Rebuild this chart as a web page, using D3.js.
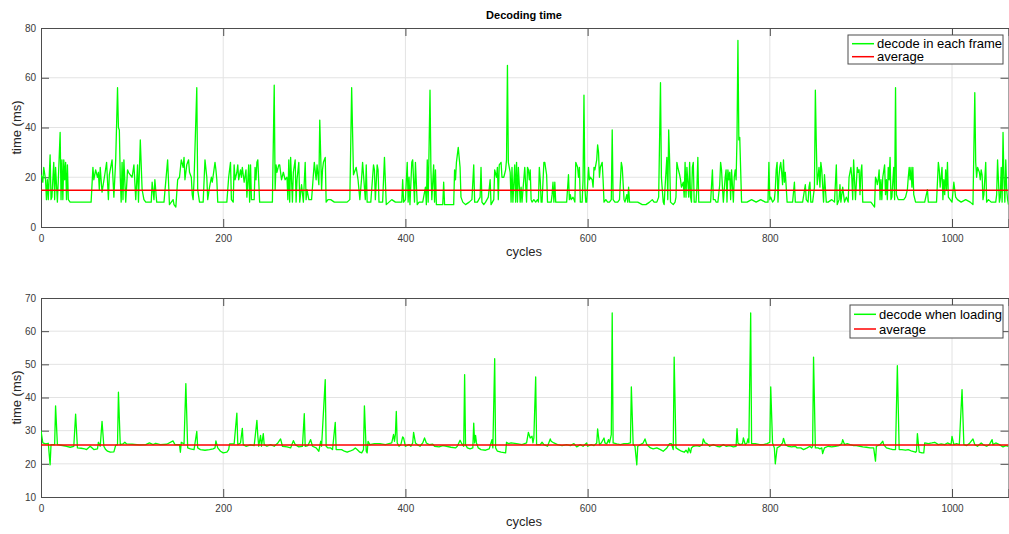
<!DOCTYPE html>
<html>
<head>
<meta charset="utf-8">
<script src="https://cdn.jsdelivr.net/npm/d3@7"></script>
<style>
  html, body { margin: 0; padding: 0; background: #fff; }
  svg { display: block; font-family: "Liberation Sans", Arial, sans-serif; }
</style>
</head>
<body>
<div id="chart"></div>
<script>
// decode time per frame, [cycle, ms] vertices
const frameDecode = [
  [0,21],[1,20],[2,18],[3,24],[5,19],[6,11],[7,19],[8,11],[10,29],[11,11],[12,12],[14,26],[15,11],[16,24],[18,10],[19,19],[21,38],[22,11],[23,27],[24,11],[25,27],[26,19],[27,26],[28,11],[29,25],[30,11],[32,10],[34,10],[40,10],[45,10],[50,10],[55,10],
  [57,24],[58,19],[60,23],[62,20],[63,22],[64,15],[65,24],[67,14],[70,21],[72,26],[74,11],[75,21],[77,25],[78,27],[80,12],[82,27],[84,56],[85,40],[86,39],[87,20],[88,10],[89,26],[90,11],[91,27],[93,10],[95,23],[96,22],[98,21],[100,20],[102,25],[104,11],[106,25],[107,10],[109,35],[111,15],[113,11],[115,10],[118,10],[121,10],[122,18],[124,11],[125,19],[127,10],[130,10],[135,10],[139,27],[141,9],[143,10],[145,11],[146,9],[148,8],[150,19],[152,20],[154,27],[156,24],[157,28],[158,19],[160,25],[162,27],[163,22],[165,20],[166,13],[167,11],[168,19],[171,56],[172,15],[174,10],[176,10],
  [178,10],[180,27],[182,20],[183,11],[185,16],[187,20],[188,18],[191,26],[192,23],[193,19],[194,10],[196,10],[200,10],[202,10],[204,10],[206,20],[208,26],[209,11],[211,10],[212,25],[213,19],[215,22],[216,25],[217,19],[219,23],[220,20],[221,24],[223,18],[225,23],[226,12],[228,25],[229,10],[230,25],[231,11],[234,11],[235,24],[236,19],[237,26],[238,27],[240,10],[244,10],[248,10],[252,10],[254,10],[256,57],[257,15],[258,25],[259,22],[261,25],[262,25],[264,19],[266,22],[268,19],[270,20],[271,11],[272,27],[273,10],[274,28],[276,10],[277,22],[279,27],[280,10],[281,19],[283,26],[284,10],[286,17],[288,10],[290,26],[291,11],[292,15],[294,11],[297,11],[299,21],[300,26],[302,19],[303,25],[305,17],[306,43],[308,15],[309,23],[310,26],[312,28],[313,10],[315,11],[318,11],[322,10],[328,10],[332,10],[336,10],[339,11],[341,56],[343,21],[345,23],[346,24],[348,19],[350,11],[352,20],[353,26],[356,11],
  [357,25],[358,10],[360,10],[362,10],[365,25],[366,23],[367,11],[369,25],[370,23],[371,10],[373,10],[375,10],[377,28],[379,9],[382,10],[385,11],[389,10],[393,10],[396,10],[397,19],[398,10],[400,11],[402,26],[403,10],[404,20],[405,9],[407,26],[408,27],[410,10],[411,26],[413,9],[415,10],[419,10],[422,16],[423,9],[424,27],[425,10],[427,55],[428,23],[429,11],[431,25],[432,10],[433,23],[434,9],[437,9],[441,9],[442,18],[443,9],[446,9],[450,9],[453,9],[454,23],[455,19],[456,26],[458,32],[460,24],[461,12],[463,10],[466,9],[470,10],[473,11],[475,25],[476,10],[479,10],[482,12],[483,24],[484,10],[486,9],[488,10],[491,12],[493,19],[494,9],[497,11],[498,23],[500,20],[501,24],[502,11],[503,25],[505,26],[506,20],[508,20],[510,23],[511,27],[512,65],[513,26],[515,22],[516,10],[517,24],[518,10],[520,25],[521,10],[522,26],[523,10],[524,24],[526,10],[527,16],[528,10],[531,24],[533,10],
  [534,24],[535,23],[536,19],[537,23],[538,11],[539,10],[541,11],[543,10],[545,11],[546,10],[547,24],[548,19],[549,10],[550,10],[552,26],[553,26],[555,21],[556,10],[557,10],[560,10],[561,13],[562,18],[563,10],[564,18],[565,10],[570,10],[575,10],[577,10],[579,21],[580,11],[581,13],[582,11],[584,12],[586,10],[587,26],[589,24],[590,20],[591,24],[592,10],[594,10],[595,19],[596,53],[597,16],[598,10],[599,10],[601,24],[602,19],[603,20],[605,19],[606,16],[607,24],[608,23],[610,27],[611,33],[612,30],[613,20],[614,24],[616,26],[617,19],[618,10],[620,11],[622,10],[624,10],[626,11],[627,39],[628,11],[630,10],[633,10],[635,11],[637,26],[638,24],[640,11],[641,10],[643,13],[644,10],[645,16],[646,10],[649,10],[655,10],[660,9],[664,9],[668,10],[671,11],[673,10],[676,10],[678,12],[680,58],[681,20],[683,10],[684,9],[685,16],[687,28],[688,11],[689,39],[690,27],[691,10],[694,9],[696,10],[697,12],[698,26],[699,24],[701,21],[702,19],[703,16],[705,18],[706,12],[707,26],[708,12],[709,24],[711,12],
  [712,26],[713,12],[714,10],[715,24],[716,26],[717,10],[719,10],[720,16],[721,28],[722,10],[724,10],[728,10],[732,10],[735,10],[737,23],[738,11],[740,11],[741,10],[743,10],[745,17],[746,26],[747,23],[748,16],[749,10],[751,20],[752,23],[753,10],[754,23],[755,19],[756,22],[757,11],[758,23],[760,10],[761,20],[762,23],[763,19],[764,36],[765,75],[766,35],[767,36],[768,23],[769,10],[771,10],[775,10],[780,11],[785,10],[790,11],[795,10],[798,10],[799,26],[800,11],[801,12],[803,10],[805,11],[806,15],[807,23],[808,26],[809,10],[810,20],[811,24],[812,26],[813,22],[814,17],[815,27],[816,18],[817,22],[819,10],[822,10],[825,10],[827,18],[828,10],[832,10],[836,10],[839,17],[840,11],[842,10],[843,16],[844,18],[845,10],[847,10],[849,16],[850,55],[851,34],[852,17],[854,24],[855,16],[856,26],[857,23],[859,10],[860,21],[862,10],[864,10],[868,11],[871,10],[873,25],[874,9],[876,11],[877,17],[878,10],[880,16],[882,10],[884,12],[886,10],[887,20],[889,24],
  [890,20],[891,11],[892,27],[893,19],[894,11],[896,24],[897,22],[898,23],[899,13],[900,22],[901,25],[902,10],[905,10],[908,10],[911,10],[913,9],[915,8],[916,20],[917,19],[918,17],[919,19],[920,23],[921,11],[922,19],[923,11],[924,20],[926,25],[927,13],[928,19],[929,11],[930,24],[931,19],[932,28],[933,11],[934,12],[936,24],[937,11],[938,56],[939,13],[941,11],[944,11],[947,11],[949,12],[951,15],[952,20],[953,24],[954,19],[955,24],[956,16],[957,24],[958,13],[960,10],[963,10],[966,10],[970,10],[973,15],[974,10],[977,10],[980,10],[983,10],[985,26],[986,23],[987,16],[989,24],[990,11],[991,19],[992,13],[993,23],[994,15],[995,26],[996,12],[998,11],[1000,10],[1002,18],[1004,12],[1006,11],[1010,10],[1015,11],[1020,10],[1023,9],[1025,54],[1026,26],[1027,20],[1028,24],[1030,22],[1031,19],[1032,23],[1033,21],[1034,11],[1035,13],[1037,26],[1038,10],[1040,11],[1043,10],[1046,10],[1048,10],[1049,13],[1050,27],[1052,10],[1053,12],[1054,24],[1055,10],[1056,38],[1057,19],[1058,10],[1059,27],[1060,15],[1061,11],[1062,9]
];
const frameAverage = 14.8;

// decode time while loading, [cycle, ms]
const loadingDecode = [
  [0,30],[2,26.3],[5,26],[8,26.2],[10,19.7],[11,25.8],[15,25.8],[16,37.5],[18,25.8],[22,25.6],[28,25.3],[32,25],[36,25.3],[38,35],[40,24.8],[44,24.7],[48,24.5],[50,24.3],[54,25.3],[58,24.3],[62,24.5],[63,26.5],[65,25.3],[67,32.8],[69,25.3],[71,24.3],[73,23.8],[76,23.5],[80,23.6],[82,25.6],[84,25.8],[85,41.6],[87,25.8],[90,26],[92,26.5],[94,26],[100,25.9],[108,25.7],[115,25.8],[119,26.3],[123,25.8],[126,26.2],[131,25.8],[138,25.9],[145,26.9],[147,25.8],[152,25.8],[153,23.5],[154,26.5],[157,26],[159,44.2],[161,24.8],[164,24.5],[168,24.3],[171,29.8],[172,24.8],[175,24.3],[180,24.1],[185,24.3],[189,24.5],[191,24.8],[192,26.9],[194,24.8],[197,23.8],[200,23.3],[204,23.5],[206,24.3],[207,26],[212,26],[215,35.3],[216,25.8],[219,26.3],[221,30.7],[222,25.8],[225,25.3],[230,25.7],[234,25.5],[237,33.1],[238,28.3],[239,25.3],[241,28.6],[242,25.3],[244,29.1],[245,25.8],[248,25.3],[252,25.8],[256,25.3],[260,26.3],[263,27.5],[265,25.3],[270,25.1],[274,24.8],[277,27],[279,25.8],[283,25.1],[287,25.3],[289,35.1],[290,25.3],[293,25.5],[296,27.3],[298,25.3],[302,24.8],[305,23.8],[307,26.8],[308,25.3],[312,45.4],[313,25.3],[315,24.8],[318,24.8],[320,24.3],[323,32.5],[324,24.3],[328,24.3],
  [330,24.3],[333,23.8],[336,23.5],[339,23.8],[343,24.3],[345,24.8],[347,24.3],[350,23.5],[352,23.3],[354,24.3],[355,37.5],[357,23.8],[358,23.3],[359,26.8],[361,25.8],[366,26.1],[372,26.1],[378,25.8],[385,26.3],[387,28.9],[388,26.8],[389,28.8],[390,35.8],[391,26.3],[393,25.3],[395,25.8],[397,28.1],[398,27.8],[400,25.3],[404,25.8],[406,25.3],[408,26.3],[409,29.5],[411,26.3],[413,25.8],[416,25.3],[419,26.3],[421,27.8],[423,26.3],[426,25.8],[430,25.9],[432,25.3],[437,25.1],[441,25.5],[445,25.3],[450,25],[455,24.8],[457,25.3],[460,27.1],[462,26],[464,25.3],[465,46.9],[466,25.8],[468,24.8],[471,24.5],[474,24.8],[475,32.3],[476,26.3],[477,28.6],[478,26.3],[480,24.8],[483,24.3],[488,24.1],[492,24.5],[495,27.3],[496,24.8],[498,51.7],[499,24.8],[501,23.8],[505,23.5],[510,23.3],[511,26.5],[513,26.1],[516,26.3],[522,26.1],[528,25.8],[533,26.3],[535,29.5],[537,27.8],[539,28.3],[540,26.3],[541,27.8],[543,46.2],[544,25.8],[548,25.8],[550,26.5],[552,25.8],[556,25.3],[559,27.5],[560,26.8],[563,26.3],[567,25.8],[572,25.5],[577,25.8],[581,25.5],[585,26.1],[588,25.1],[592,25.8],[595,25.3],[599,26.3],[600,25.3],[604,25.8],[607,25.5],[610,26.3],[611,30.5],[613,25.8],[615,26.3],[618,27.8],[619,26.3],[621,26],[623,27.3],[624,26.3],[626,28.8],[627,65.5],[628,26.3],[632,26],[636,25.8],[640,26.1],[644,26.1],[647,26.3],[648,43.2],[650,25.8],[652,25.3],[654,19.7],[655,25.3],[658,25.8],[661,26.3],[663,27.5],[665,25.8],[669,24.8],[672,24.5],[676,24.8],[680,24.3],[683,23.8],[687,24.8],[690,26.1],
  [692,26.1],[694,24.3],[695,52.2],[697,24.8],[700,24.3],[703,23.8],[706,23.5],[708,24.1],[710,23.3],[711,24.8],[713,23.3],[714,24.8],[716,25.3],[720,25.5],[723,25.3],[726,25.8],[727,27.5],[729,26.3],[731,26.1],[734,25.3],[738,25.8],[742,25.3],[745,25.1],[749,25.8],[752,25.3],[756,25.5],[760,25.1],[763,25.3],[764,30.6],[765,26.3],[767,25.8],[770,26],[771,27.8],[773,25.8],[775,26.3],[776,27.5],[777,26.3],[779,65.5],[780,26.1],[784,26.1],[789,25.8],[793,25.8],[797,26.1],[800,26.5],[801,43.2],[803,26.3],[805,24.8],[806,20],[808,24.8],[811,25.3],[814,26.3],[815,27.7],[817,25.8],[820,25.3],[824,25.1],[828,25.3],[830,24.8],[834,24.8],[837,24.3],[841,24.8],[844,25.3],[846,24.8],[847,25.3],[848,52.2],[850,24.8],[853,24.8],[855,24.5],[857,24.8],[858,23.1],[860,24.8],[864,25.3],[868,25.1],[872,25.3],[876,25.5],[879,26.1],[880,27.3],[882,25.8],[885,26.1],[888,25.8],[892,25.5],[895,25.5],[899,25.3],[902,25.1],[906,25],[910,24.8],[914,24.8],[916,20.8],[917,25.3],[921,25.8],[924,26.8],[925,25.8],[928,24.8],[932,24.5],[935,24.3],[938,24.3],[940,49.6],[942,24.3],[945,24.3],[949,24.1],[952,24.3],[956,23.8],[960,23.5],[961,23.8],[962,29.1],[964,23.5],[967,23.3],[969,23.3],[970,26.3],[974,26.1],[978,26.3],[981,26.5],[985,25.8],[988,26],[992,25.8],[995,26.3],[999,25.8],[1000,28.3],[1002,25.8],[1005,26.1],[1008,25.8],[1011,42.4],[1013,25.8],[1016,25.5],[1019,26.1],[1023,27.5],[1025,25.8],[1028,25.3],[1032,26.3],[1034,25.8],[1038,25.3],[1041,25.8],[1044,27.3],[1045,25.8],[1048,26.3],[1052,25.8],[1056,25.1],[1059,25.5],[1062,25.3]
];
const loadingAverage = 25.7;

const xTicks = [0, 200, 400, 600, 800, 1000];
const frameYTicks = [0, 20, 40, 60, 80];
const loadingYTicks = [10, 20, 30, 40, 50, 60, 70];

const W = 1009, H = 534;
const svg = d3.select('#chart').append('svg').attr('width', W).attr('height', H);

const x = d3.scaleLinear().domain([0, 1062]).range([41, 1008.5]);

svg.append('text')
  .attr('x', 524).attr('y', 19)
  .attr('text-anchor', 'middle')
  .attr('font-size', 11).attr('font-weight', 'bold')
  .attr('fill', '#000')
  .text('Decoding time');

function drawPanel(id, top, bottom, yDomain, yTicks, series, avg, legend) {
  const y = d3.scaleLinear().domain(yDomain).range([bottom, top]);
  const g = svg.append('g');
  const x0 = x.range()[0], x1 = x.range()[1];

  g.append('clipPath').attr('id', id)
    .append('rect').attr('x', x0).attr('y', top).attr('width', x1 - x0).attr('height', bottom - top);

  // grid
  g.append('g').selectAll('line').data(xTicks.slice(1)).join('line')
    .attr('x1', d => x(d)).attr('x2', d => x(d)).attr('y1', top).attr('y2', bottom)
    .attr('stroke', '#e3e3e3').attr('stroke-width', 1);
  g.append('g').selectAll('line').data(yTicks.slice(1, -1)).join('line')
    .attr('x1', x0).attr('x2', x1).attr('y1', d => y(d)).attr('y2', d => y(d))
    .attr('stroke', '#e3e3e3').attr('stroke-width', 1);

  // axes
  const axisColor = '#4d4d4d';
  const bottomAxis = g.append('g').attr('transform', `translate(0,${bottom})`)
    .call(d3.axisBottom(x).tickValues(xTicks).tickSize(-8).tickPadding(8).tickFormat(d3.format('d')));
  const topAxis = g.append('g').attr('transform', `translate(0,${top})`)
    .call(d3.axisTop(x).tickValues(xTicks).tickSize(-8).tickFormat(''));
  const leftAxis = g.append('g').attr('transform', `translate(${x0},0)`)
    .call(d3.axisLeft(y).tickValues(yTicks).tickSize(-8).tickPadding(5));
  const rightAxis = g.append('g').attr('transform', `translate(${x1},0)`)
    .call(d3.axisRight(y).tickValues(yTicks).tickSize(-8).tickFormat(''));
  [bottomAxis, topAxis, leftAxis, rightAxis].forEach(a => {
    a.select('.domain').attr('stroke', axisColor).attr('stroke-width', 1);
    a.selectAll('.tick line').attr('stroke', axisColor);
    a.selectAll('text').attr('fill', '#3a3a3a').attr('font-size', 10)
      .attr('font-family', '"Liberation Sans", Arial, sans-serif');
  });

  // series
  const line = d3.line().x(d => x(d[0])).y(d => y(d[1]));
  const plot = g.append('g').attr('clip-path', `url(#${id})`);
  plot.append('path').datum(series)
    .attr('fill', 'none').attr('stroke', '#00ff00').attr('stroke-width', 1.3)
    .attr('stroke-linejoin', 'round')
    .attr('d', line);
  plot.append('path').datum([[0, avg], [1062, avg]])
    .attr('fill', 'none').attr('stroke', '#ff0000').attr('stroke-width', 1.5)
    .attr('d', line);

  // axis labels
  g.append('text')
    .attr('x', 524).attr('y', bottom + 29)
    .attr('text-anchor', 'middle').attr('font-size', 13).attr('fill', '#262626')
    .text('cycles');
  g.append('text')
    .attr('transform', `translate(21,${(top + bottom) / 2}) rotate(-90)`)
    .attr('text-anchor', 'middle').attr('font-size', 13).attr('fill', '#262626')
    .text('time (ms)');

  // legend
  const lg = g.append('g');
  lg.append('rect')
    .attr('x', legend.x).attr('y', legend.y).attr('width', legend.w).attr('height', legend.h)
    .attr('fill', '#fff').attr('stroke', '#4d4d4d').attr('stroke-width', 1);
  legend.items.forEach((it, i) => {
    const ly = legend.y + legend.first + i * legend.step;
    lg.append('line')
      .attr('x1', legend.x + 4).attr('x2', legend.x + 26).attr('y1', ly).attr('y2', ly)
      .attr('stroke', it.color).attr('stroke-width', 1.5);
    lg.append('text')
      .attr('x', legend.x + 29).attr('y', ly + 4.5)
      .attr('font-size', 13).attr('fill', '#000')
      .text(it.label);
  });
}

drawPanel('clipTop', 28, 227, [0, 80], frameYTicks, frameDecode, frameAverage, {
  x: 848, y: 35, w: 155, h: 29, first: 8.7, step: 13,
  items: [{ label: 'decode in each frame', color: '#00ff00' }, { label: 'average', color: '#ff0000' }]
});
drawPanel('clipBottom', 298, 497, [10, 70], loadingYTicks, loadingDecode, loadingAverage, {
  x: 850, y: 305, w: 153, h: 33, first: 9.3, step: 14.7,
  items: [{ label: 'decode when loading', color: '#00ff00' }, { label: 'average', color: '#ff0000' }]
});
</script>
</body>
</html>
